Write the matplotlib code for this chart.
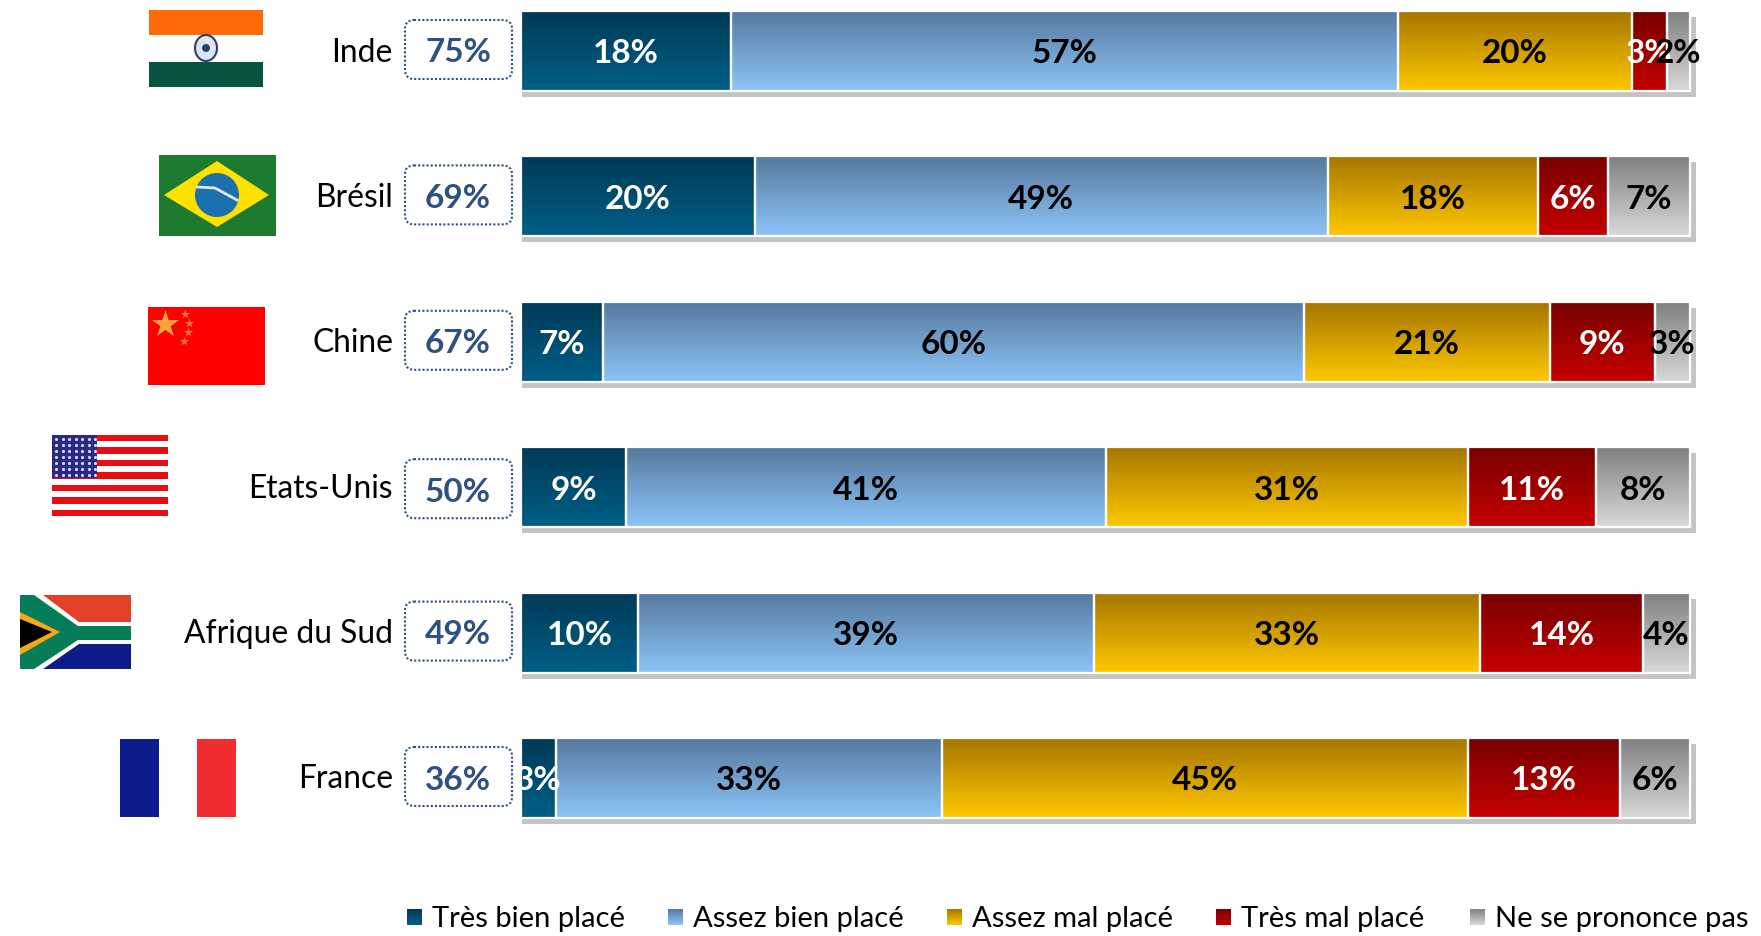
#!/usr/bin/env python3
# Stacked bars per country with flags, score boxes and gradient fills
import matplotlib
matplotlib.use("Agg")
import matplotlib.pyplot as plt
import numpy as np
from matplotlib.colors import LinearSegmentedColormap
from matplotlib.patches import Circle, Ellipse, FancyBboxPatch, Polygon, Rectangle
from matplotlib.transforms import Bbox, ScaledTranslation, TransformedBbox

plt.rcParams["font.family"] = ["Lato", "DejaVu Sans"]

countries = ["Inde", "Brésil", "Chine", "Etats-Unis", "Afrique du Sud", "France"]
scores = [75, 69, 67, 50, 49, 36]
series_names = ["Très bien placé", "Assez bien placé", "Assez mal placé", "Très mal placé", "Ne se prononce pas"]
tres_bien = [18, 20, 7, 9, 10, 3]
assez_bien = [57, 49, 60, 41, 39, 33]
assez_mal = [20, 18, 21, 31, 33, 45]
tres_mal = [3, 6, 9, 11, 14, 13]
nspp = [2, 7, 3, 8, 4, 6]

series_values = [tres_bien, assez_bien, assez_mal, tres_mal, nspp]
grad_colors = [("#013a56", "#005f87"), ("#56799f", "#8cc5f8"), ("#a67600", "#ffc800"),
               ("#780000", "#c60000"), ("#808080", "#d9d9d9")]
label_colors = ["white", "black", "black", "white", "black"]

W, H = 1761, 936
BAR_LEFT, BAR_RIGHT = 521, 1690
ROW_TOP, ROW_STEP = 51, 145.4
BAR_H = 80 / ROW_STEP

fig = plt.figure(figsize=(W / 100, H / 100), dpi=100, facecolor="white")

# pixel overlay for flags, boxes, country names and legend
px = fig.add_axes([0, 0, 1, 1])
px.set_xlim(0, W)
px.set_ylim(H, 0)
px.axis("off")

ax = fig.add_axes([BAR_LEFT / W, 0, (W - BAR_LEFT) / W, 1])
ax.patch.set_alpha(0)
ax.axis("off")

grad = np.linspace(0, 1, 128).reshape(-1, 1)
cmaps = [LinearSegmentedColormap.from_list("g%d" % i, c) for i, c in enumerate(grad_colors)]

rows = np.arange(len(countries))
totals = np.sum(series_values, axis=0)
# drop shadow: a bit to the right and below, starts flush with the bar on the left
for dx in (1, 6):
    shadow = ax.transData + ScaledTranslation(dx / 100, -6 / 100, fig.dpi_scale_trans)
    ax.barh(rows, totals, height=BAR_H, color="#c4c4c4", transform=shadow, zorder=1)

lefts = np.zeros(len(countries))
for s, vals in enumerate(series_values):
    for r, v in enumerate(vals):
        ax.imshow(grad, cmap=cmaps[s], aspect="auto", interpolation="bilinear", zorder=2,
                  extent=(lefts[r], lefts[r] + v, r + BAR_H / 2, r - BAR_H / 2))
    ax.barh(rows, vals, left=lefts, height=BAR_H, facecolor="none", edgecolor="white", linewidth=1.6, zorder=3)
    for r, v in enumerate(vals):
        t = ax.text(lefts[r] + v / 2, r + 0.02, "%d%%" % v, ha="center", va="center", color=label_colors[s],
                    fontsize=24, fontweight="bold", zorder=4, clip_on=True)
        if v == 3:
            # the slide cuts these labels just left of their segment
            box = Bbox([[max(lefts[r] - 0.3, 0), r - 1], [lefts[r] + v + 5, r + 1]])
            t.set_clip_box(TransformedBbox(box, ax.transData))
    lefts = lefts + np.array(vals)

ax.set_xlim(0, (W - BAR_LEFT) / (BAR_RIGHT - BAR_LEFT) * 100)
ax.set_ylim((H - ROW_TOP) / ROW_STEP, -ROW_TOP / ROW_STEP)

# country names and dotted score boxes
for r, name in enumerate(countries):
    yc = ROW_TOP + ROW_STEP * r
    off = 3 if r == 3 else 0
    px.text(393, yc + 1.5, name, ha="right", va="center", fontsize=22.9, color="black")
    px.add_patch(FancyBboxPatch((405, yc - 31 + off), 107, 59, boxstyle="round,pad=0,rounding_size=9",
                                facecolor="white", edgecolor="#2f5080", linewidth=1.5, linestyle=(0, (1, 1))))
    px.text(458, yc + 2 + off, "%d%%" % scores[r], ha="center", va="center", fontsize=24, fontweight="bold",
            color="#2f5080")


def rect(x0, y0, x1, y1, color):
    px.add_patch(Rectangle((x0, y0), x1 - x0, y1 - y0, facecolor=color, edgecolor="none"))


# Inde
rect(149, 10, 263, 87, "#ffffff")
rect(149, 10, 263, 35, "#ff6a06")
rect(149, 62, 263, 87, "#075440")
px.add_patch(Ellipse((206, 48), 22, 26, facecolor="#dfe4ee", edgecolor="#27406f", linewidth=1.5))
px.add_patch(Circle((206, 48), 4, facecolor="#27406f", edgecolor="none"))

# Brésil
rect(159, 155, 276, 236, "#1d7a2e")
px.add_patch(Polygon([(164, 195), (217, 161), (269, 195), (217, 227)], facecolor="#ffe100", edgecolor="none"))
px.add_patch(Ellipse((217, 195), 44, 44, facecolor="#1b70ae", edgecolor="none"))
px.plot([197, 215, 237], [187, 188, 200], color="#dfe8ef", linewidth=2)

# Chine
rect(148, 307, 265, 385, "#fe0000")
px.scatter([165], [324], marker="*", s=420, color="#f6a53a", linewidths=0)
px.scatter([185, 189, 188, 184], [314, 323, 332, 341], marker="*", s=50, color="#f0743a", linewidths=0)

# Etats-Unis
rect(52, 435, 168, 516, "#ffffff")
for i in range(7):
    y0 = 435 + i * 81 / 6.5
    rect(52, y0, 168, y0 + 81 / 13, "#e70d12")
rect(52, 435, 97, 478, "#2a2a80")
star_x, star_y = np.meshgrid(np.arange(56, 96, 6.5), np.arange(439, 476, 6))
px.scatter(star_x.ravel(), star_y.ravel(), s=5, color="#d8d8f0", linewidths=0)

# Afrique du Sud
rect(20, 595, 131, 669, "#ffffff")
px.add_patch(Polygon([(43, 595), (131, 595), (131, 622), (79, 622)], facecolor="#e3402b", edgecolor="none"))
px.add_patch(Polygon([(43, 669), (131, 669), (131, 644), (79, 644)], facecolor="#0f1a8b", edgecolor="none"))
px.add_patch(Polygon([(20, 595), (34, 595), (78, 626), (131, 626), (131, 640), (78, 640), (34, 669), (20, 669)],
                     facecolor="#067d59", edgecolor="none"))
px.add_patch(Polygon([(20, 612), (60, 632), (20, 655)], facecolor="#f3a916", edgecolor="none"))
px.add_patch(Polygon([(20, 619), (52, 632), (20, 648)], facecolor="black", edgecolor="none"))

# France
rect(120, 739, 159, 817, "#0e1c8c")
rect(197, 739, 236, 817, "#f02c30")

# legend, hand placed as in the slide
legend_x = [407, 668, 947, 1216, 1470]
for s, name in enumerate(series_names):
    x0 = legend_x[s]
    px.imshow(grad, cmap=cmaps[s], aspect="auto", interpolation="bilinear", extent=(x0, x0 + 15, 925, 909))
    px.text(x0 + 25, 919, name, ha="left", va="center", fontsize=21, color="black")
px.set_xlim(0, W)
px.set_ylim(H, 0)

fig.savefig("out.png", dpi=100)
